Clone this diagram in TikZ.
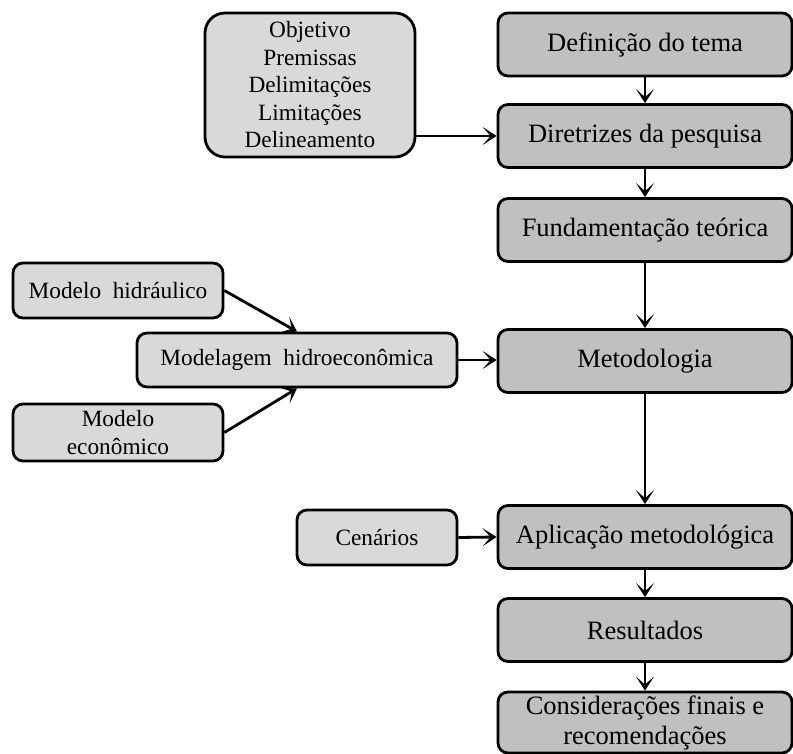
\documentclass[tikz,border=0pt]{standalone}
\usepackage{fontspec}
\setmainfont{Liberation Serif}
\usetikzlibrary{arrows.meta}
\definecolor{stepgray}{RGB}{192,192,192}
\definecolor{inputgray}{RGB}{217,217,217}
\begin{document}
\begin{tikzpicture}[x=1pt,y=-1pt,
  stepbox/.style={draw, line width=2.8pt, fill=stepgray, rounded corners=10pt,
    minimum width=294pt, minimum height=63pt, align=center, inner sep=0pt,
    font=\fontsize{26.5}{30}\selectfont},
  inbox/.style={draw, line width=2.8pt, fill=inputgray, rounded corners=10pt,
    align=center, inner sep=0pt, font=\fontsize{23.3}{27.5}\selectfont},
  flow/.style={line width=2.8pt, -{Stealth[length=14pt,width=18pt,inset=8pt]}}
]
\useasboundingbox (0,0) rectangle (793,754);

% main sequence of steps
\node[stepbox] (def)  at (645,44.5) {Definição do tema};
\node[stepbox] (dir)  at (645,136)  {Diretrizes da pesquisa};
\node[stepbox] (fund) at (645,230)  {Fundamentação teórica};
\node[stepbox] (met)  at (645,361)  {Metodologia};
\node[stepbox] (apl)  at (645,537)  {Aplicação metodológica};
\node[stepbox] (res)  at (645,630)  {Resultados};
\node[stepbox, minimum height=61pt] (cons) at (645,722.5)
  {Considerações finais e\\recomendações};

% side inputs
\node[inbox, rounded corners=20pt, minimum width=210pt, minimum height=144pt]
  (obj) at (310,85) {Objetivo\\Premissas\\Delimitações\\Limitações\\Delineamento};
\node[inbox, minimum width=210pt, minimum height=55pt] (hid) at (118,290.5)
  {Modelo\ \ hidráulico};
\node[inbox, minimum width=320pt, minimum height=54pt] (mod) at (297,360)
  {Modelagem\ \ hidroeconômica};
\node[inbox, minimum width=210pt, minimum height=57pt] (eco) at (118,432.5)
  {Modelo\\econômico};
\node[inbox, minimum width=160pt, minimum height=55pt] (cen) at (377,537.5)
  {Cenários};

% connectors
\draw[flow] (def) -- (dir);
\draw[flow] (dir) -- (fund);
\draw[flow] (fund) -- (met);
\draw[flow] (met) -- (apl);
\draw[flow] (apl) -- (res);
\draw[flow] (res) -- (cons);
\draw[flow] (obj.east |- dir.west) -- (dir.west);
\draw[flow] (mod.east) -- (met.west |- mod.east);
\draw[flow] (hid.east) -- (mod.north);
\draw[flow] (eco.east) -- (mod.south);
\draw[flow] (cen.east) -- (apl.west);
\end{tikzpicture}
\end{document}
